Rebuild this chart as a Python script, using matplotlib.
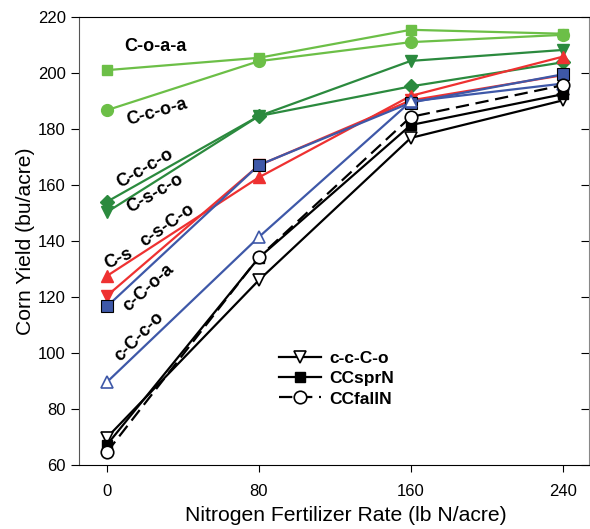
import matplotlib.pyplot as plt

plt.rcParams['font.family'] = ['Liberation Sans', 'DejaVu Sans']

# Nitrogen rates (lb N/acre)
n_rate = [0, 80, 160, 240]

# Corn yield (bu/acre) for each rotation
coaa = [201, 205.4, 215.4, 214]
ccoa = [186.7, 204.2, 211.0, 213.6]
cccc_o = [154, 184.6, 195.2, 203.8]
csco = [150.3, 184.6, 204.3, 208.2]
cs = [127.5, 162.7, 191.8, 205.8]
cscto = [120.4, 167.0, 190.2, 199.2]
ccoa_b = [116.6, 167.1, 189.4, 199.5]
ccco_b = [89.6, 141.4, 189.8, 196.2]
cc_c_o = [69.8, 126.0, 176.8, 190.2]
ccsprn = [67.2, 134.0, 181.4, 192.4]
ccfalln = [64.6, 134.2, 184.3, 195.6]

light_green = '#6cbf47'
dark_green = '#2b8a3e'
red = '#ee3131'
blue = '#3e58a8'

fig = plt.figure(figsize=(5.9, 5.29), dpi=100)
ax = fig.add_axes([0.1339, 0.121, 0.864, 0.847])

lw = 1.6
ax.plot(n_rate, coaa, color=light_green, lw=lw, marker='s', ms=7.5, mec=light_green)
ax.plot(n_rate, ccoa, color=light_green, lw=lw, marker='o', ms=8.5, mec=light_green)
ax.plot(n_rate, cccc_o, color=dark_green, lw=lw, marker='D', ms=7, mec=dark_green)
ax.plot(n_rate, csco, color=dark_green, lw=lw, marker='v', ms=8.5, mec=dark_green)
ax.plot(n_rate, cs, color=red, lw=lw, marker='^', ms=8.5, mec=red)
ax.plot(n_rate, cscto, color=red, lw=lw, marker='v', ms=8.5, mec=red)
ax.plot(n_rate, ccoa_b, color=blue, lw=lw, marker='s', ms=8, mfc=blue, mec='black', mew=0.8)
ax.plot(n_rate, ccco_b, color=blue, lw=lw, marker='^', ms=8, mfc='white', mec=blue, mew=1.2)

ax.plot(n_rate, cc_c_o, color='black', lw=lw, marker='v', ms=8.5, mfc='white',
        mec='black', mew=1.2, label='c-c-C-o')
ax.plot(n_rate, ccsprn, color='black', lw=lw, marker='s', ms=7.5, mfc='black',
        mec='black', label='CCsprN')
ax.plot(n_rate, ccfalln, color='black', lw=lw, ls=(0, (6, 3)), marker='o', ms=9,
        mfc='white', mec='black', mew=1.2, label='CCfallN')

# Rotation labels
lab = dict(fontsize=13, fontweight='bold', ha='center', va='center')
ax.text(25.8, 209.3, 'C-o-a-a', rotation=0, **lab)
ax.text(26.3, 186.0, 'C-c-o-a', rotation=16, **lab)
ax.text(20.0, 166.0, 'C-c-c-o', rotation=30, **lab)
ax.text(25.3, 156.8, 'C-s-c-o', rotation=30, **lab)
ax.text(6.3, 133.6, 'C-s', rotation=25, **lab)
ax.text(31.6, 145.4, 'c-s-C-o', rotation=35, **lab)
ax.text(21.6, 123.2, 'c-C-o-a', rotation=42, **lab)
ax.text(16.8, 105.7, 'c-C-c-o', rotation=45, **lab)

ax.set_xlim(-14.7, 253.7)
ax.set_ylim(60, 220)
ax.set_xticks(n_rate)
ax.set_yticks(range(60, 221, 20))
ax.tick_params(axis='both', labelsize=12)
ax.tick_params(axis='y', which='both', left=True, right=True, direction='out', length=6)
ax.tick_params(axis='x', direction='out', length=5, pad=9)
for t in ax.yaxis.get_major_ticks():
    t.tick2line.set_marker(0)  # right ticks point inward

ax.spines['left'].set_color('#555555')
ax.spines['right'].set_color('#888888')

ax.set_xlabel('Nitrogen Fertilizer Rate (lb N/acre)', fontsize=15.2, labelpad=5)
ax.xaxis.label.set_x(0.524)
ax.set_ylabel('Corn Yield (bu/acre)', fontsize=15.2, labelpad=2)

leg = ax.legend(loc='upper left', bbox_to_anchor=(0.362, 0.29), frameon=False,
                prop={'weight': 'bold', 'size': 12.5}, handlelength=2.4,
                labelspacing=0.3, handletextpad=0.5)

fig.savefig('out.png', dpi=100)
